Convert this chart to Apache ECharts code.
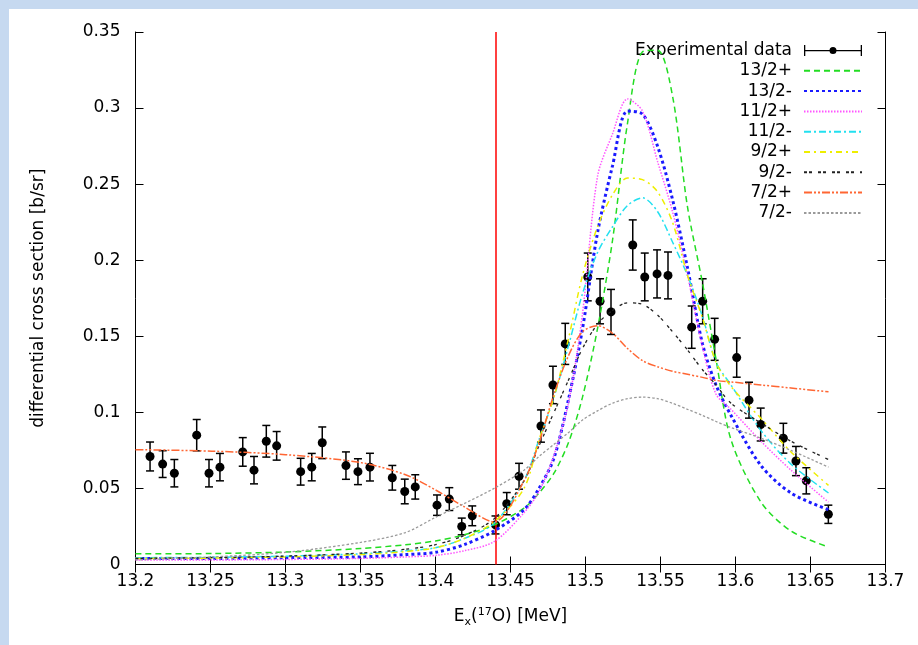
<!DOCTYPE html>
<html>
<head>
<meta charset="utf-8">
<title>differential cross section</title>
<script src="https://cdn.jsdelivr.net/npm/echarts@6.0.0/dist/echarts.min.js"></script>
<style>
  html, body { margin: 0; padding: 0; background: #c6d9f0; }
  #main { position: absolute; left: 9px; top: 9px; width: 909px; height: 636px; background: #fff; }
</style>
</head>
<body>
<div id="main"></div>
<script>
// experimental points: Ex [MeV], cross section [b/sr], error
var expX = [13.2097, 13.2181, 13.2259, 13.2408, 13.249, 13.2563, 13.2715, 13.279, 13.2872, 13.2941,
  13.3101, 13.3175, 13.3245, 13.3403, 13.3483, 13.3563, 13.3712, 13.3795, 13.3865, 13.401,
  13.4092, 13.4175, 13.4245, 13.44, 13.4475, 13.4557, 13.4703, 13.4783, 13.4865, 13.5015,
  13.5097, 13.517, 13.5315, 13.5395, 13.5477, 13.555, 13.5708, 13.5781, 13.5861, 13.6008,
  13.609, 13.6168, 13.6319, 13.6403, 13.6472, 13.6619];
var expY = [0.071, 0.066, 0.060, 0.085, 0.060, 0.064, 0.074, 0.062, 0.081, 0.078,
  0.061, 0.064, 0.080, 0.065, 0.061, 0.064, 0.057, 0.048, 0.051, 0.039,
  0.043, 0.025, 0.032, 0.026, 0.040, 0.058, 0.091, 0.118, 0.145, 0.189,
  0.173, 0.166, 0.210, 0.189, 0.191, 0.190, 0.156, 0.173, 0.148, 0.136,
  0.108, 0.092, 0.083, 0.068, 0.055, 0.033];
var expErr = [0.0095, 0.0088, 0.009, 0.0103, 0.009, 0.009, 0.0094, 0.009, 0.0104, 0.0094,
  0.0088, 0.009, 0.0104, 0.009, 0.0085, 0.0091, 0.0081, 0.0081, 0.008, 0.0067,
  0.0075, 0.0055, 0.0065, 0.0059, 0.0073, 0.0085, 0.0106, 0.0123, 0.0135, 0.0157,
  0.0148, 0.0148, 0.0165, 0.0157, 0.0158, 0.0154, 0.0139, 0.0148, 0.0138, 0.0129,
  0.0118, 0.0108, 0.0098, 0.0096, 0.0086, 0.006];

// calculated curves, sampled on one energy grid
var calcX = [13.2, 13.251, 13.3, 13.35, 13.38, 13.4, 13.419, 13.439, 13.459, 13.469,
  13.479, 13.489, 13.498, 13.508, 13.518, 13.528, 13.538, 13.548, 13.558, 13.568,
  13.578, 13.587, 13.597, 13.617, 13.637, 13.662];
var j13p = [0.007, 0.0072, 0.0082, 0.0105, 0.013, 0.0155, 0.0195, 0.026, 0.037, 0.047,
  0.06, 0.081, 0.11, 0.155, 0.213, 0.29, 0.337, 0.338, 0.308, 0.235,
  0.185, 0.135, 0.082, 0.041, 0.022, 0.0115];
var j13m = [0.004, 0.004, 0.0045, 0.005, 0.0065, 0.008, 0.013, 0.022, 0.036, 0.05,
  0.07, 0.11, 0.155, 0.218, 0.262, 0.298, 0.296, 0.275, 0.24, 0.195,
  0.145, 0.118, 0.098, 0.065, 0.047, 0.036];
var j11p = [0.003, 0.003, 0.0033, 0.004, 0.005, 0.006, 0.009, 0.015, 0.034, 0.048,
  0.072, 0.108, 0.165, 0.255, 0.283, 0.306, 0.298, 0.265, 0.232, 0.19,
  0.143, 0.112, 0.102, 0.081, 0.062, 0.041];
var j11m = [0.0045, 0.0047, 0.0055, 0.007, 0.009, 0.011, 0.017, 0.027, 0.055, 0.082,
  0.11, 0.145, 0.178, 0.205, 0.222, 0.236, 0.241, 0.232, 0.212, 0.19,
  0.163, 0.133, 0.118, 0.088, 0.066, 0.047];
var j9p = [0.004, 0.0042, 0.005, 0.0065, 0.0085, 0.011, 0.017, 0.028, 0.05, 0.082,
  0.11, 0.15, 0.19, 0.222, 0.243, 0.254, 0.253, 0.245, 0.225, 0.19,
  0.162, 0.133, 0.117, 0.096, 0.074, 0.052];
var j9m = [0.004, 0.0045, 0.0055, 0.0075, 0.01, 0.013, 0.019, 0.03, 0.055, 0.078,
  0.1, 0.122, 0.142, 0.158, 0.167, 0.172, 0.171, 0.164, 0.153, 0.141,
  0.128, 0.118, 0.106, 0.093, 0.081, 0.069];
var j7p = [0.0755, 0.0745, 0.0722, 0.067, 0.059, 0.049, 0.038, 0.028, 0.055, 0.08,
  0.112, 0.138, 0.153, 0.157, 0.152, 0.142, 0.134, 0.13, 0.127, 0.125,
  0.123, 0.121, 0.12, 0.118, 0.116, 0.1135];
var j7m = [0.003, 0.005, 0.008, 0.0145, 0.021, 0.031, 0.04, 0.05, 0.062, 0.071,
  0.079, 0.087, 0.095, 0.101, 0.106, 0.109, 0.11, 0.109, 0.106, 0.102,
  0.098, 0.094, 0.09, 0.083, 0.075, 0.064];

var threshold = 13.44;
var xTicks = { min: 13.2, max: 13.7, step: 0.05 };
var yTicks = { min: 0, max: 0.35, step: 0.05 };

var chart = echarts.init(document.getElementById("main"));

function pairs(ys) {
  return calcX.map(function (x, i) { return [x, ys[i]]; });
}

function fmt(v) {
  return String(+v.toFixed(2));
}

function curve(name, ys, color, width, dash) {
  return {
    name: name,
    type: "line",
    data: pairs(ys),
    smooth: 0.3,
    symbol: "none",
    z: 5,
    itemStyle: { color: color },
    lineStyle: { color: color, width: width, type: dash, cap: "butt" },
  };
}

var errIcon = "path://M0,5 L58,5 L58,6.2 L0,6.2 Z M0,0 L1.3,0 L1.3,11 L0,11 Z M56.7,0 L58,0 L58,11 L56.7,11 Z " +
  "M32.5,5.6 A3.5,3.5 0 1,1 25.5,5.6 A3.5,3.5 0 1,1 32.5,5.6 Z";

var axisCommon = {
  axisLine: { show: true, lineStyle: { color: "#000", width: 1 } },
  axisTick: { show: true, inside: true, length: 8, lineStyle: { color: "#000" } },
  splitLine: { show: false },
};

var option;
option = {
  animation: false,
  textStyle: { fontFamily: "DejaVu Sans", color: "#000" },
  grid: { left: 126.5, right: 32.5, top: 23, bottom: 80.5 },
  legend: {
    orient: "vertical",
    right: 55,
    top: 33,
    padding: 0,
    align: "right",
    itemWidth: 58,
    itemHeight: 11,
    itemGap: 3.3,
    itemStyle: { opacity: 0 },
    textStyle: { fontSize: 17, color: "#000", padding: [0, 7, 0, 0] },
    data: [
      { name: "Experimental data", icon: errIcon, itemStyle: { opacity: 1, color: "#000" } },
      "13/2+", "13/2-", "11/2+", "11/2-", "9/2+", "9/2-", "7/2+", "7/2-",
    ],
  },
  xAxis: [
    Object.assign({
      type: "value",
      min: xTicks.min,
      max: xTicks.max,
      interval: xTicks.step,
      position: "bottom",
      axisLabel: { fontSize: 17, color: "#000", margin: 9, formatter: fmt },
      name: "{n|E}{sub|x}{n|(}{sup|17}{n|O) [MeV]}",
      nameLocation: "middle",
      nameGap: 42,
      nameTextStyle: {
        rich: {
          n: { fontSize: 17, fontFamily: "DejaVu Sans", color: "#000" },
          sub: { fontSize: 11, fontFamily: "DejaVu Sans", color: "#000", padding: [10, 0, 0, 0] },
          sup: { fontSize: 11, fontFamily: "DejaVu Sans", color: "#000", padding: [0, 0, 9, 0] },
        },
      },
    }, axisCommon),
    Object.assign({
      type: "value",
      min: xTicks.min,
      max: xTicks.max,
      interval: xTicks.step,
      position: "top",
      axisLabel: { show: false },
    }, axisCommon),
  ],
  yAxis: [
    Object.assign({
      type: "value",
      min: yTicks.min,
      max: yTicks.max,
      interval: yTicks.step,
      position: "left",
      axisLabel: { fontSize: 17, color: "#000", margin: 15, formatter: fmt },
      name: "differential cross section [b/sr]",
      nameLocation: "middle",
      nameGap: 88,
      nameTextStyle: { fontSize: 17, color: "#000" },
    }, axisCommon),
    Object.assign({
      type: "value",
      min: yTicks.min,
      max: yTicks.max,
      interval: yTicks.step,
      position: "right",
      axisLabel: { show: false },
    }, axisCommon),
  ],
  series: [
    {
      name: "errors",
      type: "custom",
      z: 2,
      encode: { x: 0, y: [1, 2] },
      data: expX.map(function (x, i) { return [x, expY[i] - expErr[i], expY[i] + expErr[i]]; }),
      renderItem: function (params, api) {
        var top = api.coord([api.value(0), api.value(2)]);
        var bot = api.coord([api.value(0), api.value(1)]);
        var w = 4;
        var st = { stroke: "#000", lineWidth: 1.5 };
        return {
          type: "group",
          children: [
            { type: "line", shape: { x1: top[0], y1: top[1], x2: bot[0], y2: bot[1] }, style: st },
            { type: "line", shape: { x1: top[0] - w, y1: top[1], x2: top[0] + w, y2: top[1] }, style: st },
            { type: "line", shape: { x1: bot[0] - w, y1: bot[1], x2: bot[0] + w, y2: bot[1] }, style: st },
          ],
        };
      },
    },
    {
      name: "Experimental data",
      type: "scatter",
      z: 3,
      symbol: "circle",
      symbolSize: 9,
      itemStyle: { color: "#000", opacity: 1 },
      data: expX.map(function (x, i) { return [x, expY[i]]; }),
    },
    curve("13/2+", j13p, "#22dd22", 1.5, [6, 4]),
    curve("13/2-", j13m, "#1a1aff", 3, [3, 3]),
    curve("11/2+", j11p, "#ff55ff", 1.5, [1.5, 1.5]),
    curve("11/2-", j11m, "#22e0f0", 1.5, [7, 3, 2, 3]),
    curve("9/2+", j9p, "#eeee00", 1.5, [6, 4, 2, 4]),
    curve("9/2-", j9m, "#222222", 1.3, [3, 2, 3, 6]),
    curve("7/2+", j7p, "#ff6633", 1.5, [8, 2, 2, 2, 2, 2]),
    curve("7/2-", j7m, "#9a9a9a", 1.3, [2.5, 2]),
    {
      name: "threshold",
      type: "line",
      data: [],
      z: 8,
      markLine: {
        silent: true,
        symbol: "none",
        label: { show: false },
        lineStyle: { color: "#ff0000", width: 1.5, type: "solid", opacity: 1 },
        data: [{ xAxis: threshold }],
      },
    },
  ],
};
option && chart.setOption(option);
</script>
</body>
</html>
